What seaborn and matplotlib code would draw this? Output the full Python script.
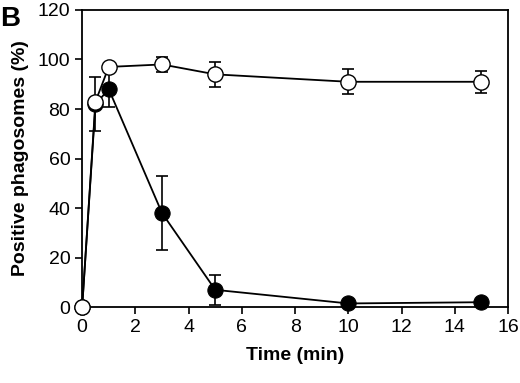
import numpy as np
import pandas as pd
import seaborn as sns
import matplotlib
matplotlib.use('Agg')
import matplotlib.pyplot as plt

# dados
tempo = [0, 0.5, 1, 3, 5, 10, 15]
aberto = [0, 83, 97, 98, 94, 91, 91]
aberto_erro = [0, 0, 0, 3, 5, 5, 4.5]
fechado = [0, 82, 88, 38, 7, 1.5, 2]
fechado_erro = [0, 11, 7, 15, 6, 0, 0]

df = pd.DataFrame({'Tempo': tempo, 'Aberto': aberto, 'Fechado': fechado})

sns.set_style('ticks')
plt.rcParams['font.family'] = ['Liberation Sans', 'DejaVu Sans']
plt.rcParams['text.color'] = 'black'
plt.rcParams['axes.labelcolor'] = 'black'
plt.rcParams['xtick.color'] = 'black'
plt.rcParams['ytick.color'] = 'black'

fig = plt.figure(figsize=(5.2, 3.83), dpi=100)
ax = fig.add_axes([0.158, 0.198, 0.819, 0.776])

# barras de erro
ax.errorbar(tempo, fechado, yerr=fechado_erro, fmt='none', ecolor='black',
            elinewidth=1.2, capsize=4, capthick=1.2, zorder=2)
ax.errorbar(tempo, aberto, yerr=aberto_erro, fmt='none', ecolor='black',
            elinewidth=1.2, capsize=4, capthick=1.2, zorder=2)

# linhas
sns.lineplot(data=df, x='Tempo', y='Fechado', ax=ax, color='black', lw=1.3,
             marker='o', markersize=11, markerfacecolor='black',
             markeredgecolor='black', zorder=3)
sns.lineplot(data=df, x='Tempo', y='Aberto', ax=ax, color='black', lw=1.3,
             marker='o', markersize=11, markerfacecolor='white',
             markeredgecolor='black', markeredgewidth=1.0, zorder=4)
for ln in ax.lines:
    ln.set_clip_on(False)

ax.set_xlim(0, 16)
ax.set_ylim(0, 120)
ax.set_xticks(range(0, 17, 2))
ax.set_yticks(range(0, 121, 20))
ax.tick_params(labelsize=14, width=1.2, length=5, direction='out',
               color='black', labelcolor='black')
for s in ax.spines.values():
    s.set_linewidth(1.3)
    s.set_color('black')
    s.set_visible(True)
ax.xaxis.set_ticks_position('bottom')
ax.yaxis.set_ticks_position('left')

ax.set_xlabel('Time (min)', fontsize=14, fontweight='bold', labelpad=8, color='black')
ax.set_ylabel('Positive phagosomes (%)', fontsize=14, fontweight='bold', labelpad=6, color='black')

fig.text(0.0, 0.985, 'B', fontsize=20, fontweight='bold', va='top', ha='left', color='black')

fig.savefig('out.png', dpi=100)
